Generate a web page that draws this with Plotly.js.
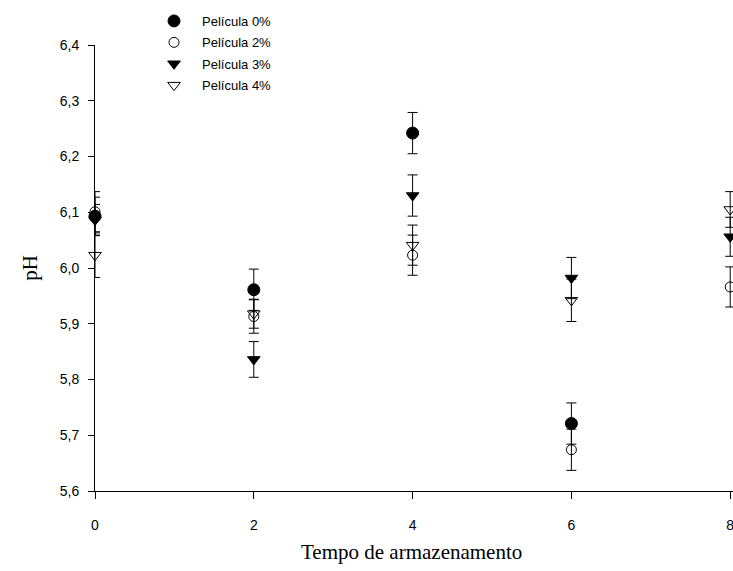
<!DOCTYPE html>
<html>
<head>
<meta charset="utf-8">
<script src="https://cdn.plot.ly/plotly-3.0.1.min.js"></script>
<style>
html, body { margin:0; padding:0; overflow:hidden; background:#fff; }
#chart { width:900px; height:571px; }
</style>
</head>
<body>
<div id="chart"></div>
<script>
// Storage time (x) and pH values
const tempo = [0, 2, 4, 6, 8];
const seriesNames = ["Película 0%", "Película 2%", "Película 3%", "Película 4%"];
const xTitle = "Tempo de armazenamento";
const yTitle = "pH";

const ph0 = [6.093, 5.961, 6.242, 5.721, null];
const err0 = [0.034, 0.037, 0.037, 0.037, 0];

const ph2 = [6.101, 5.913, 6.023, 5.674, 5.966];
const err2 = [0.036, 0.030, 0.036, 0.037, 0.036];

const ph3 = [6.086, 5.836, 6.130, 5.982, 6.056];
const err3 = [0.028, 0.032, 0.037, 0.037, 0.035];

const ph4 = [6.023, 5.918, 6.041, 5.942, 6.105];
const err4 = [0.040, 0.026, 0.036, 0.038, 0.032];

const symbols = ["circle", "circle-open", "triangle-down", "triangle-down-open"];
const sizes = [12, 10, 11, 11];
const values = [ph0, ph2, ph3, ph4];
const errors = [err0, err2, err3, err4];

const traces = values.map((v, i) => ({
  x: tempo,
  y: v,
  name: seriesNames[i],
  legendgroup: "g" + i,
  type: "scatter",
  mode: "markers",
  cliponaxis: false,
  marker: { symbol: symbols[i], size: sizes[i], color: "#000", line: { color: "#000", width: 1 } },
  error_y: { type: "data", array: errors[i], visible: true, color: "#000", thickness: 1, width: 5 }
}));

const plotW = 900 - 95 - 11.25;
const layout = {
  width: 900,
  height: 571,
  margin: { l: 95, r: 11.25, t: 45, b: 80, autoexpand: false },
  paper_bgcolor: "#fff",
  plot_bgcolor: "#fff",
  separators: ",.",
  showlegend: true,
  font: { family: "Liberation Sans, Arial, sans-serif", size: 14, color: "#000" },
  legend: {
    xref: "paper", yref: "paper",
    x: (146 - 95) / plotW, y: 1 + (45 - 6) / 446, xanchor: "left", yanchor: "top",
    itemwidth: 46,
    traceorder: "grouped",
    tracegroupgap: 1.5,
    bgcolor: "rgba(0,0,0,0)",
    font: { family: "Liberation Sans, Arial, sans-serif", size: 13, color: "#000" }
  },
  xaxis: {
    range: [0, 10],
    tickvals: [0, 2, 4, 6, 8],
    ticktext: ["0", "2", "4", "6", "8"],
    ticks: "outside", ticklen: 7, tickwidth: 1, tickcolor: "#000",
    ticklabelstandoff: 14,
    showline: true, linecolor: "#000", linewidth: 1,
    showgrid: false, zeroline: false,
    automargin: false,
    tickfont: { family: "Liberation Sans, Arial, sans-serif", size: 14 }
  },
  yaxis: {
    range: [5.6, 6.4],
    dtick: 0.1, tick0: 5.6,
    tickformat: ".1f",
    ticks: "outside", ticklen: 6, tickwidth: 1, tickcolor: "#000",
    ticklabelstandoff: 6,
    showline: true, linecolor: "#000", linewidth: 1,
    showgrid: false, zeroline: false,
    automargin: false,
    tickfont: { family: "Liberation Sans, Arial, sans-serif", size: 14 },
    title: { text: yTitle, standoff: 16,
      font: { family: "Liberation Serif, Times New Roman, serif", size: 21, color: "#000" } }
  },
  annotations: [{
    text: xTitle, xref: "paper", yref: "paper",
    x: (411 - 95) / plotW, y: -(552 - 491) / 446,
    xanchor: "center", yanchor: "middle", showarrow: false,
    font: { family: "Liberation Serif, Times New Roman, serif", size: 21, color: "#000" }
  }]
};

Plotly.newPlot("chart", traces, layout, { displayModeBar: false, staticPlot: true });
</script>
</body>
</html>
